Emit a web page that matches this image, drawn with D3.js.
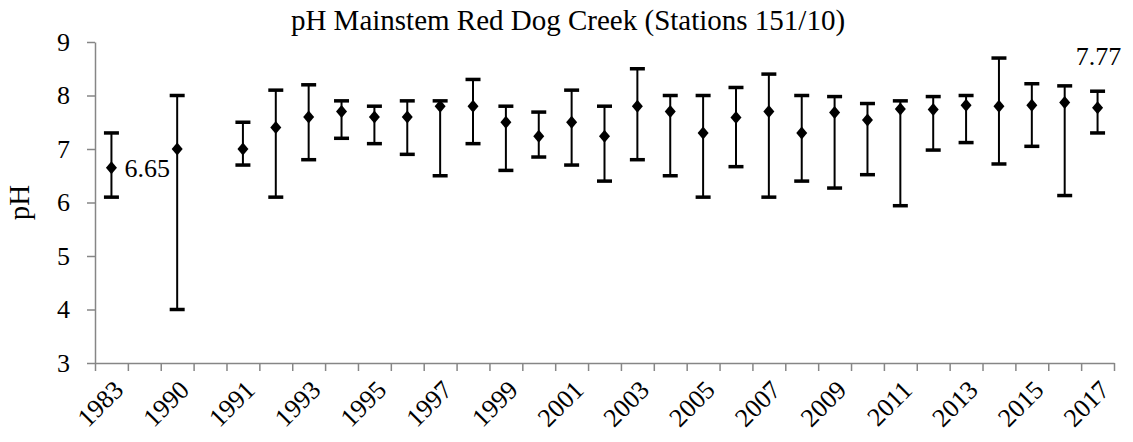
<!DOCTYPE html>
<html>
<head>
<meta charset="utf-8">
<script src="https://cdn.jsdelivr.net/npm/d3@7"></script>
<style>
  body { margin: 0; background: #fff; }
  svg text { font-family: "Times New Roman", "Liberation Serif", serif; fill: #000; }
  .axis path, .axis line { stroke: #868686; stroke-width: 1.5; }
</style>
</head>
<body>
<div id="chart"></div>
<script>
// years on the category axis ("" = empty slot in the original chart)
const years = ["1983", "", "1990", "", "1991", "1992", "1993", "1994", "1995", "1996",
    "1997", "1998", "1999", "2000", "2001", "2002", "2003", "2004", "2005", "2006",
    "2007", "2008", "2009", "2010", "2011", "2012", "2013", "2014", "2015", "2016", "2017"];

// mean pH per year
const meanPH = [6.65, null, 7.0, null, 7.0, 7.4, 7.6, 7.7, 7.6, 7.6,
    7.8, 7.8, 7.5, 7.24, 7.5, 7.24, 7.8, 7.7, 7.3, 7.59,
    7.7, 7.3, 7.68, 7.54, 7.75, 7.74, 7.82, 7.8, 7.82, 7.87, 7.77];

// max pH per year (top of error bar)
const maxPH = [7.3, null, 8.0, null, 7.5, 8.1, 8.2, 7.9, 7.8, 7.9,
    7.9, 8.3, 7.8, 7.69, 8.1, 7.8, 8.5, 8.0, 8.0, 8.15,
    8.4, 8.0, 7.98, 7.85, 7.9, 7.98, 8.0, 8.7, 8.22, 8.18, 8.08];

// min pH per year (bottom of error bar)
const minPH = [6.1, null, 4.0, null, 6.7, 6.1, 6.8, 7.2, 7.1, 6.9,
    6.5, 7.1, 6.6, 6.85, 6.7, 6.4, 6.8, 6.5, 6.1, 6.67,
    6.1, 6.4, 6.27, 6.52, 5.94, 6.98, 7.12, 6.72, 7.05, 6.13, 7.3];

const yTicks = [3, 4, 5, 6, 7, 8, 9];
const labelledYears = ["1983", "2017"];

const WIDTH = 1133, HEIGHT = 442;
const MARGIN = { LEFT: 95, RIGHT: 19, TOP: 42, BOTTOM: 79 };
const plotW = WIDTH - MARGIN.LEFT - MARGIN.RIGHT;
const plotH = HEIGHT - MARGIN.TOP - MARGIN.BOTTOM;
const SERIF = "'Times New Roman', 'Liberation Serif', serif";

const data = years.map((y, i) => ({ i, year: y, mean: meanPH[i], hi: maxPH[i], lo: minPH[i] }));

const svg = d3.select("#chart").append("svg")
    .attr("width", WIDTH)
    .attr("height", HEIGHT);

const g = svg.append("g")
    .attr("transform", `translate(${MARGIN.LEFT},${MARGIN.TOP})`);

const x = d3.scaleBand()
    .domain(d3.range(years.length))
    .range([0, plotW])
    .padding(0);
const xEdge = d3.scaleLinear().domain([0, years.length]).range([0, plotW]);

const y = d3.scaleLinear()
    .domain([3, 9])
    .range([plotH, 0]);

// y axis
g.append("g")
    .attr("class", "axis y-axis")
    .call(d3.axisLeft(y).tickValues(yTicks).tickFormat(d3.format("d"))
        .tickSize(8).tickSizeOuter(0).tickPadding(17))
    .attr("font-family", SERIF)
    .call(a => a.selectAll("text").style("font-size", "26px").attr("fill", "#000"));

// x axis: ticks on category boundaries
g.append("g")
    .attr("class", "axis x-axis")
    .attr("transform", `translate(0,${plotH})`)
    .call(d3.axisBottom(xEdge).tickValues(d3.range(years.length + 1)).tickSize(8)
        .tickSizeOuter(0).tickFormat(""));

// category labels, every second slot, rotated
g.selectAll(".cat-label")
    .data(data.filter(d => d.i % 2 === 0))
    .join("text")
    .attr("class", "cat-label")
    .attr("transform", d => `translate(${x(d.i) + x.bandwidth() / 2 + 7},${plotH + 22}) rotate(-45)`)
    .attr("text-anchor", "end")
    .attr("dy", "0.35em")
    .style("font-size", "26px")
    .text(d => d.year);

const pts = data.filter(d => d.mean !== null);
const cx = d => x(d.i) + x.bandwidth() / 2;
const capW = 15;

// error bars
const bars = g.selectAll(".err")
    .data(pts)
    .join("g")
    .attr("class", "err");

bars.append("line")
    .attr("x1", cx).attr("x2", cx)
    .attr("y1", d => y(d.hi)).attr("y2", d => y(d.lo))
    .attr("stroke", "#000").attr("stroke-width", 2);

bars.append("line")
    .attr("x1", d => cx(d) - capW / 2).attr("x2", d => cx(d) + capW / 2)
    .attr("y1", d => y(d.hi)).attr("y2", d => y(d.hi))
    .attr("stroke", "#000").attr("stroke-width", 3.5);

bars.append("line")
    .attr("x1", d => cx(d) - capW / 2).attr("x2", d => cx(d) + capW / 2)
    .attr("y1", d => y(d.lo)).attr("y2", d => y(d.lo))
    .attr("stroke", "#000").attr("stroke-width", 3.5);

// diamond markers
g.selectAll(".marker")
    .data(pts)
    .join("path")
    .attr("class", "marker")
    .attr("d", d => {
        const px = cx(d), py = y(d.mean);
        return `M${px},${py - 6.5}L${px + 5.5},${py}L${px},${py + 6.5}L${px - 5.5},${py}Z`;
    })
    .attr("fill", "#000");

// data labels for first and last year
const first = pts.find(d => d.year === labelledYears[0]);
const last = pts.find(d => d.year === labelledYears[1]);

g.append("text")
    .attr("x", cx(first) + 13)
    .attr("y", y(first.mean))
    .attr("dy", "0.35em")
    .style("font-size", "26px")
    .text(first.mean.toFixed(2));

g.append("text")
    .attr("x", cx(last) + 1)
    .attr("y", y(last.hi) - 26)
    .attr("text-anchor", "middle")
    .style("font-size", "26px")
    .text(last.mean.toFixed(2));

// titles
svg.append("text")
    .attr("x", 568)
    .attr("y", 30)
    .attr("text-anchor", "middle")
    .style("font-size", "29px")
    .text("pH Mainstem Red Dog Creek (Stations 151/10)");

svg.append("text")
    .attr("transform", `translate(29,${MARGIN.TOP + plotH / 2}) rotate(-90)`)
    .attr("text-anchor", "middle")
    .style("font-size", "29px")
    .text("pH");
</script>
</body>
</html>
